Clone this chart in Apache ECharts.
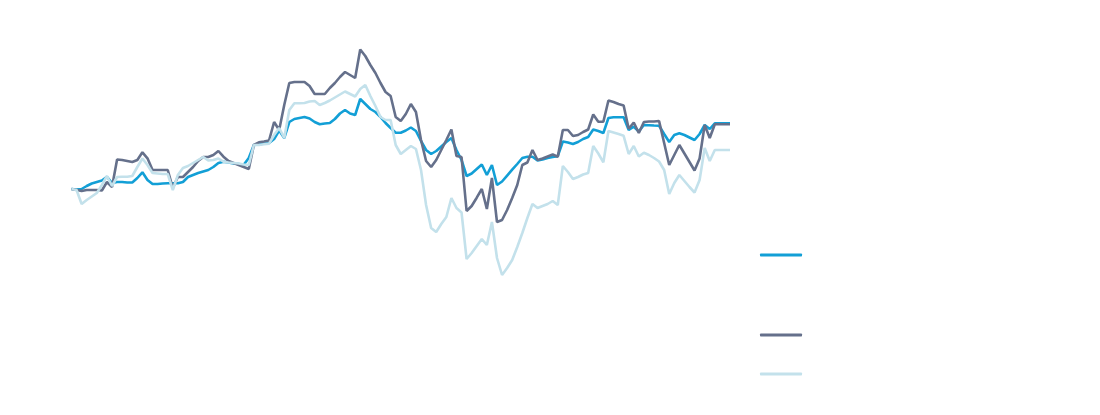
<!DOCTYPE html>
<html>
<head>
<meta charset="utf-8">
<script src="https://cdn.jsdelivr.net/npm/echarts@6/dist/echarts.min.js"></script>
<style>html,body{margin:0;padding:0;background:#fff}#c{width:1100px;height:415px}</style>
</head>
<body>
<div id="c"></div>
<script>
// Series names (legend text is not visible in the reference)
var seriesNames = ['Fund', 'Benchmark', 'Sector'];

// 131 evenly spaced observations; no axis labels are shown in the reference
var categories = [];
for (var k = 1; k <= 131; k++) categories.push('P' + k);

var fund = [1,0.5,1,4,6.5,8,9.5,13.3,7,8, 8,7.5,7.5,12,17.7,10,6,6,6.5,6.7,
  6.7,6.7,8,13,15,17,18.5,20,23,27, 28.3,27.5,26.5,26,25.2,32,45,45.5,46.5,47,
  51,59.5,52,68,71,72,73,71.5,68,65.7, 66.5,67,71,76.5,80,76.5,75,91,86,81,
  78,73,67,62,57.3,57.3,59.5,62.5,59,49, 40,36,39,43.5,48,52,40,30,14,16.5,
  21,25.5,15,25,5,8.5,14.4,20.3,26,32, 33.3,33.3,29.5,30.5,32,33,33.8,48.5,47.5,46,
  48,51,53,60.5,59,57,72,72.7,72.7,72.7, 60,63.3,58.5,65,64.8,64.5,64.3,56,48,55,
  56.7,55,52.5,50,56,65,61,66.7,66.7,66.7, 66.7];

var benchmark = [1,0,-1,0,0,0,-0.5,8,3,30.5, 30,29,28,30,37.7,31.7,20,20,20,20,
  2,13,13,18,23,29,33,33,35,39, 33.3,29,27,25,23,21,45,47.7,48.5,49.5,
  68,60,85,107,108,108,108,104,96,96, 96,102,107,113,118,115,112,140.5,134,125,
  117,107,98,94,73,69,76,86,78,50, 29,23,30,40,50,60.5,34,33,-21,-16,
  -7.7,1,-19,12,-32,-30,-20,-8,5,25, 27.5,40,30,31.5,33.5,35.5,33.3,60,60,54,
  55,58,60.5,75.5,68.3,68.3,89.5,88,86,84.5, 61.3,67.5,57,68,68.5,68.5,69,47,25,35,
  45,36.5,28,19.5,31.5,65,52,65.7,65.7,65.7, 65.7];

var sector = [1,0,-14,-10,-6.5,-3,5,14,4,13, 13.3,13.3,14,23,31.5,25,17,16.5,16,16,
  0,15,22,24,27,30,33,29.5,30,31.5, 28.3,27.5,27,26.5,25.5,25,45,45,45.7,46.4,
  55,62,52,80,86.7,86.8,87,88.5,89,85, 87,89.5,92.5,95.5,98.5,96,93.5,101,105,94,
  84,73,70,70,45,36,40,44,41,20, -15,-38,-42,-34,-27,-8,-18,-22.5,-69,-63,
  -56,-49,-55,-32,-68,-85,-78,-70,-57,-43, -28,-14,-18,-16,-14,-11,-15,24,18,11,
  13,15.5,17,44,36.5,27.7,59,57.5,56,54.2, 36,44,33.5,37.3,35,32,28.5,20,-4,7,
  15,9,3,-2.5,10,42,29,40,40,40, 40];

var colors = ['#129fd6', '#65708b', '#c3e1eb'];

var chart = echarts.init(document.getElementById('c'), null, {renderer: 'canvas'});

function legendAt(name, top) {
  return {
    data: [name],
    left: 760,
    top: top,
    orient: 'vertical',
    icon: 'roundRect',
    itemWidth: 42,
    itemHeight: 3,
    selectedMode: false,
    formatter: function () { return ''; },
    textStyle: {fontSize: 1, color: 'transparent'},
    padding: 0
  };
}

chart.setOption({
  animation: false,
  color: colors,
  grid: {left: 71.5, right: 370, top: 30, bottom: 125, containLabel: false},
  legend: [
    legendAt(seriesNames[0], 253.5),
    legendAt(seriesNames[1], 333.5),
    legendAt(seriesNames[2], 372.5)
  ],
  xAxis: {
    type: 'category',
    data: categories,
    boundaryGap: false,
    show: false
  },
  yAxis: {
    type: 'value',
    min: -100,
    max: 160,
    show: false,
    splitLine: {show: false}
  },
  series: [
    {name: seriesNames[0], type: 'line', data: fund, showSymbol: false, symbol: 'none',
     lineStyle: {width: 2.6, color: colors[0]}, itemStyle: {color: colors[0]}},
    {name: seriesNames[1], type: 'line', data: benchmark, showSymbol: false, symbol: 'none',
     lineStyle: {width: 2.6, color: colors[1]}, itemStyle: {color: colors[1]}},
    {name: seriesNames[2], type: 'line', data: sector, showSymbol: false, symbol: 'none',
     lineStyle: {width: 2.6, color: colors[2]}, itemStyle: {color: colors[2]}}
  ]
});
</script>
</body>
</html>
